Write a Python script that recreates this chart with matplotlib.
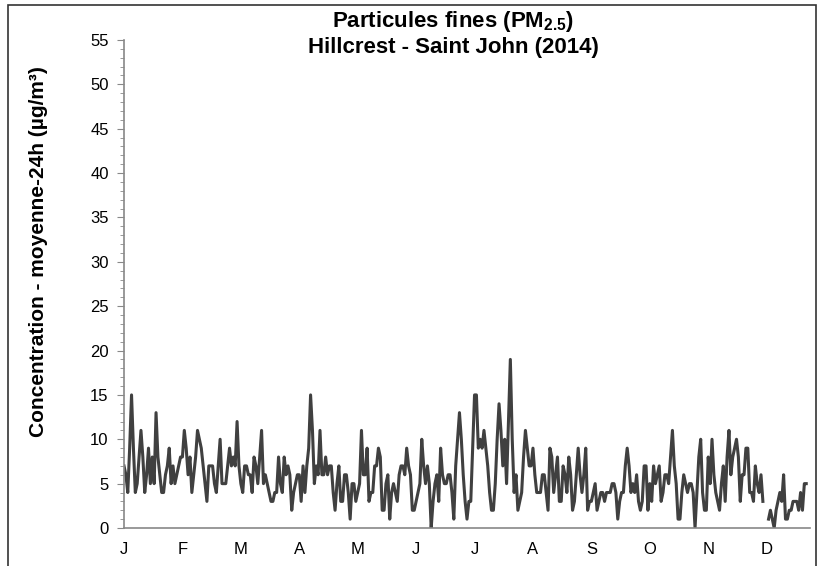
import numpy as np
import matplotlib
matplotlib.use("Agg")
import matplotlib.pyplot as plt
from matplotlib.patches import Rectangle
from matplotlib.ticker import MultipleLocator

# valeurs journalières PM2.5 (µg/m3)
jan_feb = [7, 6, 4, 9, 15, 9, 4, 5, 8, 11, 8, 4, 6, 9, 5, 8, 5, 13, 8, 6,
           4, 4, 6, 7, 9, 5, 7, 5, 6, 7, 8, 8, 11, 9, 6, 8, 4, 6, 8, 11,
           10, 9, 7, 5, 3, 7, 7, 7, 5, 4, 7, 10, 5, 5, 5, 7, 9, 7, 8, 7, 12]
mar_apr = [7, 5, 4, 7, 7, 6, 6, 4, 8, 7, 5, 8, 11, 5, 6, 5, 4, 3, 3, 4,
           4, 8, 5, 4, 8, 6, 7, 6, 2, 4, 5, 6, 6, 3, 7, 4, 7, 9, 15, 11,
           5, 7, 6, 11, 6, 6, 8, 6, 7, 7, 4, 2, 5, 7, 3, 3, 6, 6, 4, 1, 5]
may_jun = [5, 3, 4, 5, 11, 6, 6, 9, 3, 4, 4, 7, 7, 9, 8, 2, 2, 5, 6, 1,
           4, 5, 4, 3, 6, 7, 7, 6, 9, 7, 6, 2, 2, 3, 4, 5, 10, 7, 5, 7,
           5, 0, 3, 5, 6, 3, 9, 6, 5, 5, 6, 6, 4, 1, 7, 10, 13, 10, 6, 3, 1, 3]
jul_aug = [3, 9, 15, 15, 9, 10, 9, 11, 9, 7, 4, 2, 2, 5, 10, 14, 11, 7, 10, 5,
           12, 19, 10, 4, 6, 2, 3, 4, 8, 11, 9, 7, 7, 9, 6, 4, 4, 4, 6, 6,
           4, 2, 9, 8, 4, 6, 8, 3, 3, 7, 6, 4, 8, 6, 2, 3, 6, 9, 6, 4]
sep_oct = [6, 9, 2, 3, 3, 4, 5, 2, 3, 4, 4, 3, 4, 4, 4, 5, 5, 4, 1, 3,
           4, 4, 7, 9, 7, 4, 5, 4, 6, 3, 2, 3, 7, 7, 2, 5, 3, 7, 5, 6,
           7, 3, 4, 6, 6, 5, 8, 11, 7, 5, 1, 1, 4, 6, 5, 4, 5, 5, 4, 0, 4, 8]
nov_dec = [10, 4, 2, 2, 8, 5, 10, 6, 4, 3, 2, 5, 7, 3, 8, 11, 6, 8, 9, 10,
           8, 3, 6, 6, 9, 9, 4, 4, 3, 7, 5, 4, 6, 3, np.nan, np.nan,
           1, 2, 1, 0, 2, 3, 4, 3, 6, 1, 1, 2, 2, 3, 3, 3, 2, 4, 2, 5, 5,
           np.nan, np.nan]

pm25 = np.array(jan_feb + mar_apr + may_jun + jul_aug + sep_oct + nov_dec, dtype=float)
jours = np.arange(len(pm25))

mois = ['J', 'F', 'M', 'A', 'M', 'J', 'J', 'A', 'S', 'O', 'N', 'D']
pos_mois = np.arange(12) * 31

plt.rcParams['font.family'] = ['Liberation Sans', 'DejaVu Sans']
plt.rcParams['mathtext.fontset'] = 'custom'
plt.rcParams['mathtext.rm'] = 'Liberation Sans:bold'
plt.rcParams['mathtext.default'] = 'rm'

fig = plt.figure(figsize=(8.22, 5.66), dpi=100)
ax = fig.add_axes([124 / 822, 38 / 566, 686 / 822, 488 / 566])

ax.plot(jours, pm25, color='#404040', lw=2.2)

ax.set_xlim(0, 364)
ax.set_ylim(0, 55)
ax.yaxis.set_major_locator(MultipleLocator(5))
ax.yaxis.set_minor_locator(MultipleLocator(1))
ax.set_xticks(pos_mois)
ax.set_xticklabels(mois)
ax.tick_params(axis='x', length=0, pad=10, labelsize=12, colors='black')
ax.tick_params(axis='y', which='major', length=5, color='#888888', labelsize=12, pad=6)
ax.tick_params(axis='y', which='minor', length=3, color='#888888')

for s in ['top', 'right']:
    ax.spines[s].set_visible(False)
for s in ['left', 'bottom']:
    ax.spines[s].set_color('#888888')
    ax.spines[s].set_linewidth(1.2)

fig.text(453 / 822, 1 - 22 / 566, r'Particules fines (PM$_{2.5}$)',
         ha='center', va='center', fontsize=16, fontweight='bold')
fig.text(453 / 822, 1 - 47 / 566, 'Hillcrest - Saint John (2014)',
         ha='center', va='center', fontsize=16, fontweight='bold')
fig.text(39 / 822, 1 - 252 / 566, 'Concentration - moyenne-24h (µg/m³)',
         rotation=90, ha='center', va='center', fontsize=15, fontweight='bold')

# cadre du graphique
fig.patches.append(Rectangle((8 / 822, -0.1), (816 - 8) / 822, 1.1 - 5 / 566,
                             transform=fig.transFigure, fill=False,
                             edgecolor='#333333', lw=1.2))

fig.savefig('out.png', dpi=100)
